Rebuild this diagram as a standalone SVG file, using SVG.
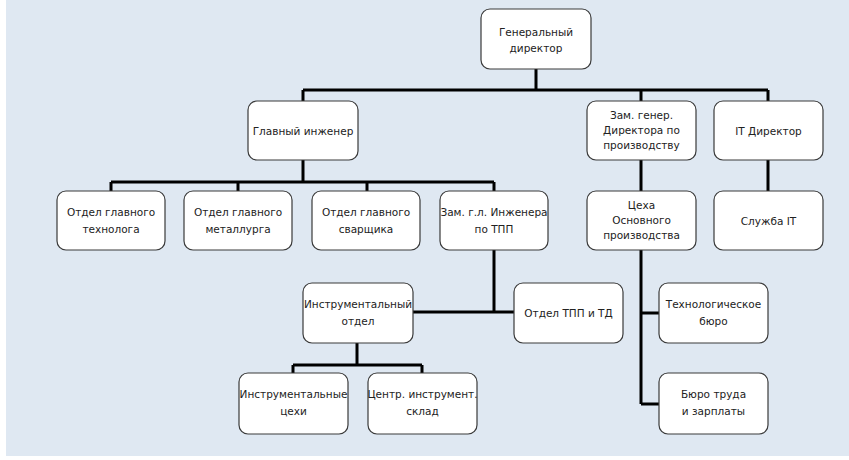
<svg xmlns="http://www.w3.org/2000/svg" width="849" height="460" viewBox="0 0 849 460">
<style>
.box{fill:#ffffff;stroke:#3a3a3a;stroke-width:1.2}
.t{font-family:"DejaVu Sans","Noto Sans",sans-serif;font-size:10.5px;fill:#222;text-anchor:middle}
.ln{fill:none;stroke:#000;stroke-width:3;stroke-linecap:butt;stroke-linejoin:miter}
</style>
<rect x="0" y="0" width="849" height="460" fill="#ffffff"/>
<rect x="6" y="0" width="843" height="456" fill="#dfe8f2"/>
<g id="connectors">
<path class="ln" d="M536 69V90M303 90H768M303 90V101M641 90V101M768 90V101"/>
<path class="ln" d="M303 160V182M111 182H494M111 182V191M238 182V191M367 182V191M494 182V191"/>
<path class="ln" d="M641 160V191M768 160V191"/>
<path class="ln" d="M494 250V312M413 312H514"/>
<path class="ln" d="M357 343V365M293 365H422M293 365V373M422 365V373"/>
<path class="ln" d="M641 250V404M641 313H659M641 404H659"/>
</g>
<g id="gen_dir"><rect class="box" x="481" y="9" width="110" height="60" rx="9"/><text class="t" x="536" y="36">Генеральный</text><text class="t" x="536" y="52">директор</text></g>
<g id="glav_inzh"><rect class="box" x="248" y="101" width="110" height="59" rx="9"/><text class="t" x="303" y="135">Главный инженер</text></g>
<g id="zam_gen"><rect class="box" x="587" y="101" width="109" height="59" rx="9"/><text class="t" x="641.5" y="119">Зам. генер.</text><text class="t" x="641.5" y="134">Директора по</text><text class="t" x="641.5" y="149">производству</text></g>
<g id="it_dir"><rect class="box" x="714" y="101" width="109" height="59" rx="9"/><text class="t" x="768.5" y="135">IT Директор</text></g>
<g id="otd_tehn"><rect class="box" x="57" y="191" width="108" height="59" rx="9"/><text class="t" x="111" y="216">Отдел главного</text><text class="t" x="111" y="233">технолога</text></g>
<g id="otd_met"><rect class="box" x="184" y="191" width="108" height="59" rx="9"/><text class="t" x="238" y="216">Отдел главного</text><text class="t" x="238" y="233">металлурга</text></g>
<g id="otd_svar"><rect class="box" x="312" y="191" width="108" height="59" rx="9"/><text class="t" x="366" y="216">Отдел главного</text><text class="t" x="366" y="233">сварщика</text></g>
<g id="zam_gl"><rect class="box" x="440" y="191" width="108" height="59" rx="9"/><text class="t" x="494" y="216">Зам. г.л. Инженера</text><text class="t" x="494" y="233">по ТПП</text></g>
<g id="ceha"><rect class="box" x="587" y="191" width="109" height="59" rx="9"/><text class="t" x="641.5" y="209">Цеха</text><text class="t" x="641.5" y="224">Основного</text><text class="t" x="641.5" y="239">производства</text></g>
<g id="sl_it"><rect class="box" x="714" y="191" width="109" height="59" rx="9"/><text class="t" x="768.5" y="225">Служба IT</text></g>
<g id="instr_otd"><rect class="box" x="303" y="283" width="110" height="60" rx="9"/><text class="t" x="358" y="308">Инструментальный</text><text class="t" x="358" y="325">отдел</text></g>
<g id="otd_tpp"><rect class="box" x="514" y="283" width="109" height="60" rx="9"/><text class="t" x="568.5" y="317">Отдел ТПП и ТД</text></g>
<g id="tehn_buro"><rect class="box" x="659" y="283" width="109" height="60" rx="9"/><text class="t" x="713.5" y="308">Технологическое</text><text class="t" x="713.5" y="325">бюро</text></g>
<g id="instr_ceh"><rect class="box" x="239" y="373" width="109" height="61" rx="9"/><text class="t" x="293.5" y="398">Инструментальные</text><text class="t" x="293.5" y="415">цехи</text></g>
<g id="centr_sklad"><rect class="box" x="368" y="373" width="109" height="61" rx="9"/><text class="t" x="422.5" y="398">Центр. инструмент.</text><text class="t" x="422.5" y="415">склад</text></g>
<g id="buro_truda"><rect class="box" x="659" y="373" width="109" height="61" rx="9"/><text class="t" x="713.5" y="398">Бюро труда</text><text class="t" x="713.5" y="415">и зарплаты</text></g>
</svg>
